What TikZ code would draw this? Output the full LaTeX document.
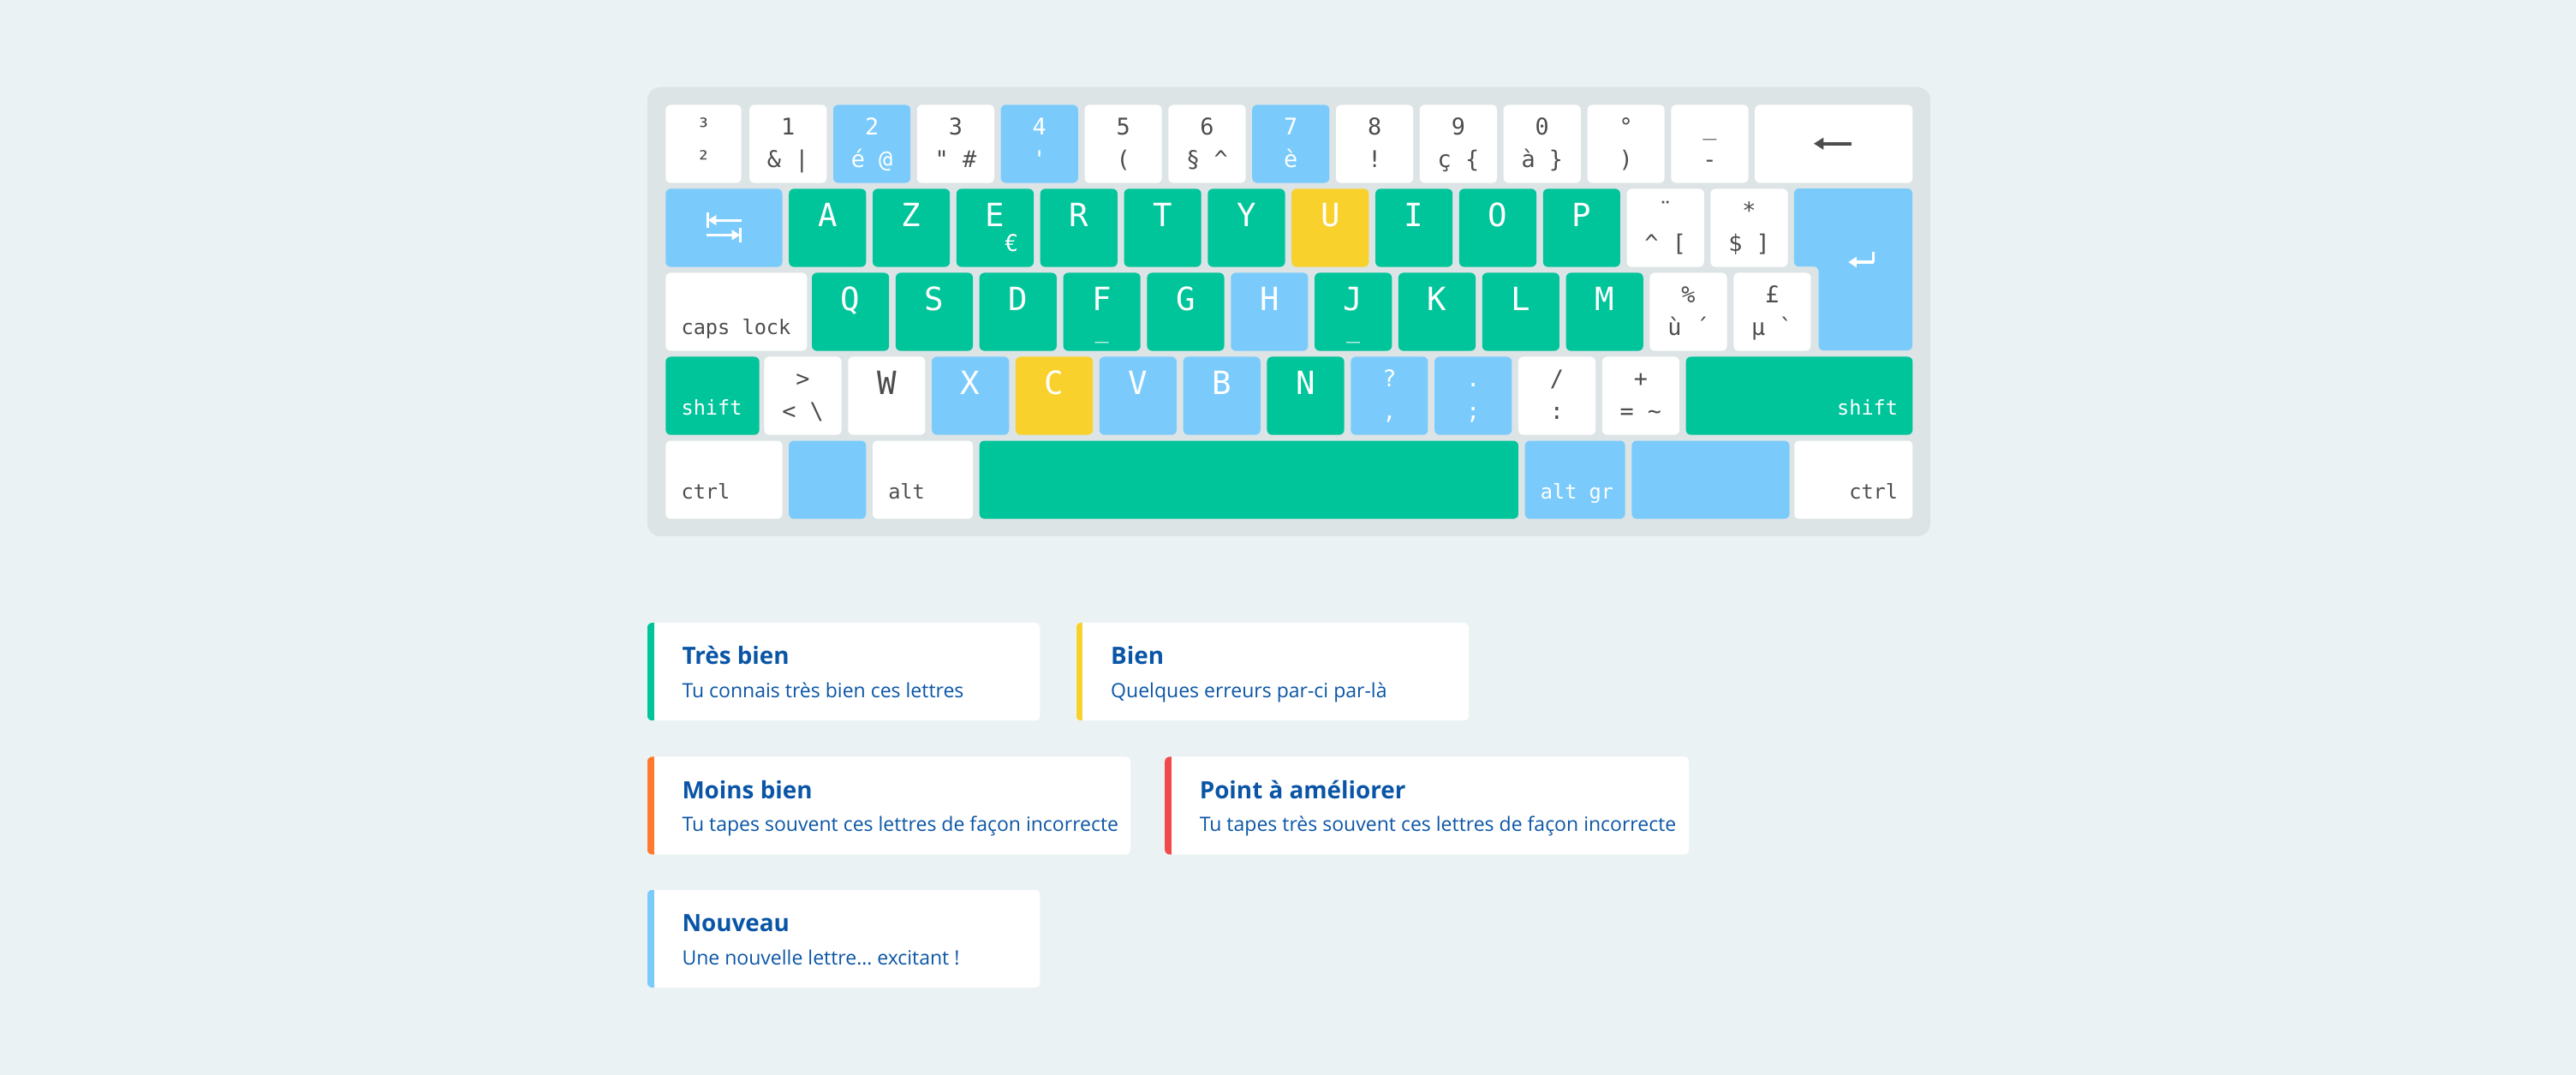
\documentclass[tikz,border=0pt]{standalone}
\usepackage{fontspec}
\newfontfamily\mono{DejaVu Sans Mono}
\newfontfamily\osans{Open Sans}
\usetikzlibrary{arrows.meta}
\definecolor{bg}{HTML}{EBF2F3}
\definecolor{kbg}{HTML}{DDE4E6}
\definecolor{kg}{HTML}{00C49A}
\definecolor{kb}{HTML}{7ACBFC}
\definecolor{ky}{HTML}{F9D12C}
\definecolor{ko}{HTML}{FF7A2F}
\definecolor{kr}{HTML}{F04B4B}
\definecolor{kt}{HTML}{4D4D4D}
\definecolor{navy}{HTML}{0A55A6}
\tikzset{
  key/.style={rounded corners=3pt,draw=none,inner sep=0pt,minimum height=47.5pt,anchor=north west},
  dual/.style={font=\mono\fontsize{14}{14}\selectfont,anchor=base,inner sep=0pt},
  letter/.style={font=\mono\fontsize{19.5}{19.5}\selectfont,anchor=base,inner sep=0pt},
  mod/.style={font=\mono\fontsize{12.3}{12.3}\selectfont,inner sep=0pt},
  card/.style={fill=white,rounded corners=3pt,draw=none},
  ttl/.style={font=\osans\bfseries\fontsize{14.5}{14.5}\selectfont,text=navy,anchor=base west,inner sep=0pt},
  sub/.style={font=\osans\fontsize{12}{12}\selectfont,text=navy,anchor=base west,inner sep=0pt}
}
% key: name, x, y, width, fill
\newcommand\Key[5]{\node[key,fill=#5,minimum width=#4pt] (#1) at (#2,#3) {};}
% dual label: name, color, top, bottom
\newcommand\Dual[4]{%
  \node[dual,text=#2] (#1t) at ([yshift=-18.5pt]#1.north) {#3};
  \node[dual,text=#2] (#1b) at ([yshift=-38.5pt]#1.north) {#4};}
% letter: name, color, letter
\newcommand\Let[3]{\node[letter,text=#2] (#1l) at ([yshift=-23pt]#1.north) {#3};}
\begin{document}
\begin{tikzpicture}[x=1pt,y=-1pt]
\useasboundingbox (0,0) rectangle (1568,654);
\fill[bg] (0,0) rectangle (1568,654);
\fill[kbg,rounded corners=8pt] (394,53) rectangle (1175,326.3);
% ---------- row 1
\def\ra{63.6}
\Key{k00}{405}{\ra}{46}{white}\Dual{k00}{kt}{³}{²}
\Key{k01}{456}{\ra}{47}{white}\Dual{k01}{kt}{1}{\& |}
\Key{k02}{507}{\ra}{47}{kb}\Dual{k02}{white}{2}{é @}
\Key{k03}{558}{\ra}{47}{white}\Dual{k03}{kt}{3}{\symbol{34} \#}
\Key{k04}{609}{\ra}{47}{kb}\Dual{k04}{white}{4}{\symbol{39}}
\Key{k05}{660}{\ra}{47}{white}\Dual{k05}{kt}{5}{(}
\Key{k06}{711}{\ra}{47}{white}\Dual{k06}{kt}{6}{§ \textasciicircum}
\Key{k07}{762}{\ra}{47}{kb}\Dual{k07}{white}{7}{è}
\Key{k08}{813}{\ra}{47}{white}\Dual{k08}{kt}{8}{!}
\Key{k09}{864}{\ra}{47}{white}\Dual{k09}{kt}{9}{ç \{}
\Key{k10}{915}{\ra}{47}{white}\Dual{k10}{kt}{0}{à \}}
\Key{k11}{966}{\ra}{47}{white}\Dual{k11}{kt}{°}{)}
\Key{k12}{1017}{\ra}{47}{white}\Dual{k12}{kt}{\_}{-}
\Key{bksp}{1068}{\ra}{96}{white}
\coordinate (bk1) at (1127,87.4);
\coordinate (bk2) at (1104,87.4);
\draw[kt,line width=2pt,-{Triangle[length=6pt,width=7pt]}] (bk1) -- (bk2);
% ---------- row 2
\def\rb{114.7}
\Key{tab}{405}{\rb}{71}{kb}
\coordinate (t1) at (451.5,134); \coordinate (t2) at (431,134);
\coordinate (t3) at (430,143); \coordinate (t4) at (450.5,143);
\draw[white,line width=1.6pt,-{Triangle[length=5pt,width=6pt]}] (t1) -- (t2);
\draw[white,line width=1.6pt] ([yshift=4.5pt]t2) -- ([yshift=-4.5pt]t2);
\draw[white,line width=1.6pt,-{Triangle[length=5pt,width=6pt]}] (t3) -- (t4);
\draw[white,line width=1.6pt] ([yshift=4.5pt]t4) -- ([yshift=-4.5pt]t4);
\Key{kA}{480}{\rb}{47}{kg}\Let{kA}{white}{A}
\Key{kZ}{531}{\rb}{47}{kg}\Let{kZ}{white}{Z}
\Key{kE}{582}{\rb}{47}{kg}\Let{kE}{white}{E}
\node[dual,text=white] (kEe) at ([xshift=10pt,yshift=-38.5pt]kE.north) {€};
\Key{kR}{633}{\rb}{47}{kg}\Let{kR}{white}{R}
\Key{kT}{684}{\rb}{47}{kg}\Let{kT}{white}{T}
\Key{kY}{735}{\rb}{47}{kg}\Let{kY}{white}{Y}
\Key{kU}{786}{\rb}{47}{ky}\Let{kU}{white}{U}
\Key{kI}{837}{\rb}{47}{kg}\Let{kI}{white}{I}
\Key{kO}{888}{\rb}{47}{kg}\Let{kO}{white}{O}
\Key{kP}{939}{\rb}{47}{kg}\Let{kP}{white}{P}
\Key{kdi}{990}{\rb}{47}{white}\Dual{kdi}{kt}{¨}{\textasciicircum{} [}
\Key{kst}{1041}{\rb}{47}{white}\Dual{kst}{kt}{*}{\$ ]}
\fill[kb,rounded corners=3pt] (1092,114.7) -- (1164,114.7) -- (1164,213.3) -- (1107,213.3) -- (1107,162.2) -- (1092,162.2) -- cycle;
\coordinate (e1) at (1140.5,153.5); \coordinate (e2) at (1140.5,159.5); \coordinate (e3) at (1125,159.5);
\draw[white,line width=1.6pt] (e1) -- (e2);
\draw[white,line width=1.6pt,-{Triangle[length=5pt,width=6pt]}] (e2) -- (e3);
% ---------- row 3
\def\rc{165.8}
\Key{caps}{405}{\rc}{86}{white}
\node[mod,text=kt,anchor=base west] (capsl) at ([xshift=9.5pt,yshift=-38pt]caps.north west) {caps lock};
\Key{kQ}{494}{\rc}{47}{kg}\Let{kQ}{white}{Q}
\Key{kS}{545}{\rc}{47}{kg}\Let{kS}{white}{S}
\Key{kD}{596}{\rc}{47}{kg}\Let{kD}{white}{D}
\Key{kF}{647}{\rc}{47}{kg}\Let{kF}{white}{F}
\node[dual,text=white] (kFu) at ([yshift=-40pt]kF.north) {\_};
\Key{kG}{698}{\rc}{47}{kg}\Let{kG}{white}{G}
\Key{kH}{749}{\rc}{47}{kb}\Let{kH}{white}{H}
\Key{kJ}{800}{\rc}{47}{kg}\Let{kJ}{white}{J}
\node[dual,text=white] (kJu) at ([yshift=-40pt]kJ.north) {\_};
\Key{kK}{851}{\rc}{47}{kg}\Let{kK}{white}{K}
\Key{kL}{902}{\rc}{47}{kg}\Let{kL}{white}{L}
\Key{kM}{953}{\rc}{47}{kg}\Let{kM}{white}{M}
\Key{kpc}{1004}{\rc}{47}{white}\Dual{kpc}{kt}{\%}{ù ´}
\Key{kpd}{1055}{\rc}{47}{white}\Dual{kpd}{kt}{£}{µ \symbol{96}}
% ---------- row 4
\def\rd{216.9}
\Key{lsh}{405}{\rd}{57}{kg}
\node[mod,text=white,anchor=base west] (lshl) at ([xshift=9.5pt,yshift=-35.6pt]lsh.north west) {shift};
\Key{klt}{465}{\rd}{47}{white}\Dual{klt}{kt}{>}{< \textbackslash}
\Key{kW}{516}{\rd}{47}{white}\Let{kW}{kt}{W}
\Key{kX}{567}{\rd}{47}{kb}\Let{kX}{white}{X}
\Key{kC}{618}{\rd}{47}{ky}\Let{kC}{white}{C}
\Key{kV}{669}{\rd}{47}{kb}\Let{kV}{white}{V}
\Key{kB}{720}{\rd}{47}{kb}\Let{kB}{white}{B}
\Key{kN}{771}{\rd}{47}{kg}\Let{kN}{white}{N}
\Key{kqu}{822}{\rd}{47}{kb}\Dual{kqu}{white}{?}{,}
\Key{kdo}{873}{\rd}{47}{kb}\Dual{kdo}{white}{.}{;}
\Key{ksl}{924}{\rd}{47}{white}\Dual{ksl}{kt}{/}{:}
\Key{kpl}{975}{\rd}{47}{white}\Dual{kpl}{kt}{+}{= \textasciitilde}
\Key{rsh}{1026}{\rd}{138}{kg}
\node[mod,text=white,anchor=base east] (rshl) at ([xshift=-9pt,yshift=-35.6pt]rsh.north east) {shift};
% ---------- row 5
\def\re{268}
\Key{lct}{405}{\re}{71}{white}
\node[mod,text=kt,anchor=base west] (lctl) at ([xshift=9.5pt,yshift=-35.6pt]lct.north west) {ctrl};
\Key{lwin}{480}{\re}{47}{kb}
\Key{alt}{531}{\re}{61}{white}
\node[mod,text=kt,anchor=base west] (altl) at ([xshift=9.5pt,yshift=-35.6pt]alt.north west) {alt};
\Key{spc}{596}{\re}{328}{kg}
\Key{agr}{928}{\re}{61}{kb}
\node[mod,text=white,anchor=base west] (agrl) at ([xshift=9.5pt,yshift=-35.6pt]agr.north west) {alt gr};
\Key{rwin}{993}{\re}{96}{kb}
\Key{rct}{1092}{\re}{72}{white}
\node[mod,text=kt,anchor=base east] (rctl) at ([xshift=-9pt,yshift=-35.6pt]rct.north east) {ctrl};
% ---------- legend
% card: name, x1, y1, x2, y2, color, title, subtitle
\newcommand\Card[8]{%
  \path[card] (#2,#3) rectangle (#4,#5);
  \begin{scope}
    \clip[rounded corners=3pt] (#2,#3) rectangle (#4,#5);
    \fill[#6] (#2,#3) rectangle ({#2+4},#5);
  \end{scope}
  \node[ttl] (#1t) at ({#2+21},{#3+25.5}) {#7};
  \node[sub] (#1s) at ({#2+21},{#3+45.5}) {#8};}
\Card{c1}{394}{379}{633}{438.5}{kg}{Très bien}{Tu connais très bien ces lettres}
\Card{c2}{655}{379}{894}{438.5}{ky}{Bien}{Quelques erreurs par-ci par-là}
\Card{c3}{394}{460.5}{688}{520}{ko}{Moins bien}{Tu tapes souvent ces lettres de façon incorrecte}
\Card{c4}{709}{460.5}{1028}{520}{kr}{Point à améliorer}{Tu tapes très souvent ces lettres de façon incorrecte}
\Card{c5}{394}{541.5}{633}{601}{kb}{Nouveau}{Une nouvelle lettre… excitant !}
\end{tikzpicture}
\end{document}
